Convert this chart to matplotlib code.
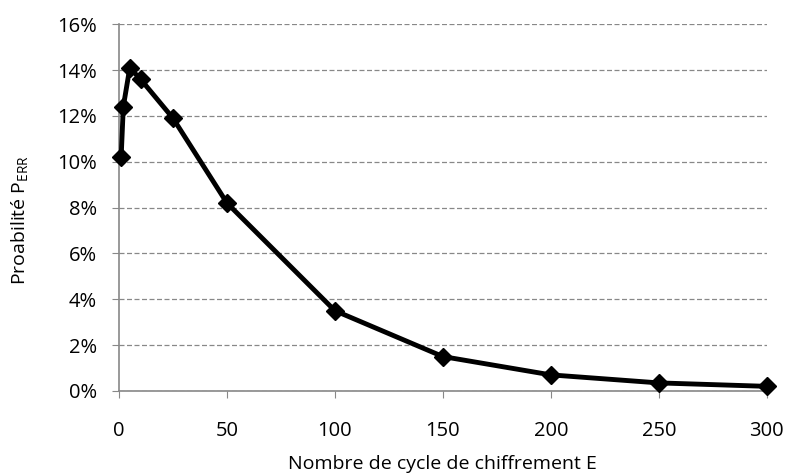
import matplotlib.pyplot as plt
from matplotlib.ticker import FuncFormatter

plt.rcParams['font.family'] = ['Open Sans', 'DejaVu Sans']

cycles = [1, 2, 5, 10, 25, 50, 100, 150, 200, 250, 300]
p_err = [10.2, 12.4, 14.1, 13.6, 11.9, 8.2, 3.5, 1.5, 0.7, 0.35, 0.2]
x_ticks = [0, 50, 100, 150, 200, 250, 300]
y_ticks = [0, 2, 4, 6, 8, 10, 12, 14, 16]

fig = plt.figure(figsize=(7.88, 4.75), dpi=100)
ax = fig.add_axes([0.151, 0.177, 0.822, 0.772])

ax.plot(cycles, p_err, color='black', lw=3.5, marker='D', ms=9,
        markerfacecolor='black', zorder=3, clip_on=False)

ax.set_xlim(0, 300)
ax.set_ylim(0, 16)
ax.set_xticks(x_ticks)
ax.set_yticks(y_ticks)
ax.yaxis.set_major_formatter(FuncFormatter(lambda v, p: f"{v:.0f}%"))
ax.grid(axis='y', color='#888888', ls=(0, (4, 2)), lw=0.9)
ax.set_axisbelow(True)

for s in ['top', 'right']:
    ax.spines[s].set_visible(False)
for s in ['left', 'bottom']:
    ax.spines[s].set_color('#888888')
    ax.spines[s].set_linewidth(1.2)
ax.tick_params(colors='#888888', labelcolor='black', labelsize=14.5, length=5)
ax.tick_params(axis='x', pad=17)
ax.tick_params(axis='y', pad=11)

ax.set_xlabel('Nombre de cycle de chiffrement E', fontsize=14)
ax.xaxis.label.set_va('baseline')
ax.xaxis.set_label_coords(0.5, -0.214)
ax.set_ylabel(r'Proabilité P$_{\mathregular{ERR}}$', fontsize=14)
ax.yaxis.label.set_va('baseline')
ax.yaxis.set_label_coords(-0.144, 0.466)

fig.savefig('out.png', dpi=100)
